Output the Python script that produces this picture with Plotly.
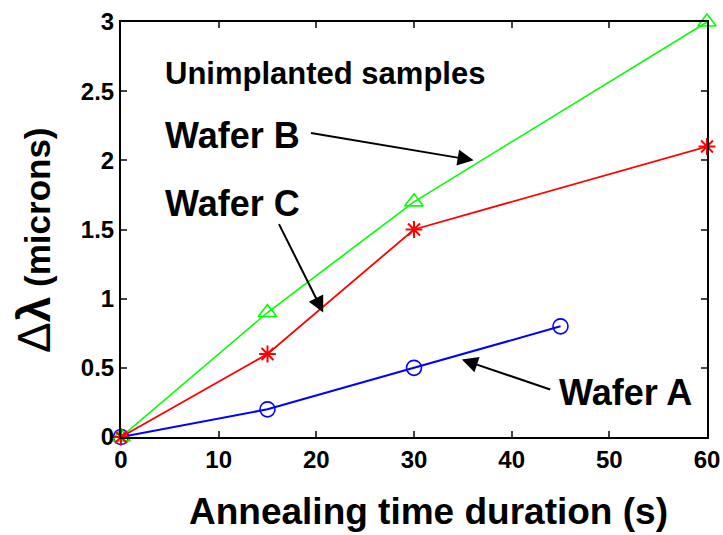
import plotly.graph_objects as go

# Data
time_a = [0, 15, 30, 45]
wafer_a = [0, 0.2, 0.5, 0.8]
time_b = [0, 15, 30, 60]
wafer_b = [0, 0.9, 1.7, 3.0]
time_c = [0, 15, 30, 60]
wafer_c = [0, 0.6, 1.5, 2.1]

x_ticks = [0, 10, 20, 30, 40, 50, 60]
y_ticks = [0, 0.5, 1, 1.5, 2, 2.5, 3]
y_tick_labels = ["0", "0.5", "1", "1.5", "2", "2.5", "3"]

FONT = "Arial, Liberation Sans, sans-serif"

fig = go.Figure()
fig.add_trace(go.Scatter(x=time_a, y=wafer_a, mode="lines+markers",
                         line=dict(color="#0000ff", width=2),
                         marker=dict(symbol="circle-open", size=15, color="#0000ff",
                                     line=dict(width=1.6, color="#0000ff")),
                         cliponaxis=False, showlegend=False))
fig.add_trace(go.Scatter(x=time_b, y=wafer_b, mode="lines+markers",
                         line=dict(color="#00ff00", width=1.6),
                         marker=dict(symbol="triangle-up-open", size=16, color="#00ff00",
                                     line=dict(width=1.6, color="#00ff00")),
                         cliponaxis=False, showlegend=False))
fig.add_trace(go.Scatter(x=time_c, y=wafer_c, mode="lines+markers",
                         line=dict(color="#ff0000", width=1.8),
                         marker=dict(symbol="asterisk-open", size=14, color="#ff0000",
                                     line=dict(width=2, color="#ff0000")),
                         cliponaxis=False, showlegend=False))

bold = dict(family=FONT, size=36, color="black")

# Text labels
fig.add_annotation(x=4.3, y=2.63, xref="x", yref="y", text="<b>Unimplanted samples</b>",
                   showarrow=False, xanchor="left", yanchor="middle",
                   font=dict(family=FONT, size=31, color="black"))
fig.add_annotation(x=4.3, y=2.18, xref="x", yref="y", text="<b>Wafer B</b>",
                   showarrow=False, xanchor="left", yanchor="middle", font=bold)
fig.add_annotation(x=4.3, y=1.69, xref="x", yref="y", text="<b>Wafer C</b>",
                   showarrow=False, xanchor="left", yanchor="middle", font=bold)
fig.add_annotation(x=44.6, y=0.325, xref="x", yref="y", text="<b>Wafer A</b>",
                   showarrow=False, xanchor="left", yanchor="middle", font=bold)

# Arrows
arrows = [
    (36.1, 2.0, 19.3, 2.2),
    (20.7, 0.90, 16.1, 1.55),
    (34.9, 0.56, 44.1, 0.34),
]
for hx, hy, tx, ty in arrows:
    fig.add_annotation(x=hx, y=hy, ax=tx, ay=ty, xref="x", yref="y", axref="x", ayref="y",
                       text="", showarrow=True, arrowhead=2, arrowsize=1.6, arrowwidth=2,
                       arrowcolor="black", standoff=0)

# Layout geometry (pixels)
W, H = 723, 535
ML, MR, MT, MB = 121, 16, 22, 98
pw = W - ML - MR
ph = H - MT - MB

# Axis titles as annotations positioned like the reference
fig.add_annotation(x=(428 - ML) / pw, y=(H - MB - 511) / ph, xref="paper", yref="paper",
                   text="<b>Annealing time duration (s)</b>",
                   showarrow=False, xanchor="center", yanchor="middle",
                   font=dict(family=FONT, size=37, color="black"))
fig.add_annotation(x=(34 - ML) / pw, y=(H - MB - 240) / ph, xref="paper", yref="paper",
                   text="<span style='font-size:46px'>Δ<b>λ</b></span> <b>(microns)</b>",
                   textangle=-90, showarrow=False, xanchor="center", yanchor="middle",
                   font=dict(family=FONT, size=35, color="black"))

fig.update_xaxes(range=[0, 60], tickvals=x_ticks, ticks="inside", ticklen=6, tickwidth=1.5,
                 showline=True, linecolor="black", linewidth=2, mirror="ticks",
                 showgrid=False, zeroline=False, automargin=False,
                 tickfont=dict(family=FONT, size=24, color="black", weight="bold"))
fig.update_yaxes(range=[0, 3], tickvals=y_ticks, ticktext=y_tick_labels, ticks="inside",
                 ticklen=6, tickwidth=1.5,
                 showline=True, linecolor="black", linewidth=2, mirror="ticks",
                 showgrid=False, zeroline=False, automargin=False,
                 tickfont=dict(family=FONT, size=24, color="black", weight="bold"))

fig.update_layout(width=W, height=H, plot_bgcolor="white", paper_bgcolor="white",
                  margin=dict(l=ML, r=MR, t=MT, b=MB), showlegend=False)

fig.write_html("out.html")
